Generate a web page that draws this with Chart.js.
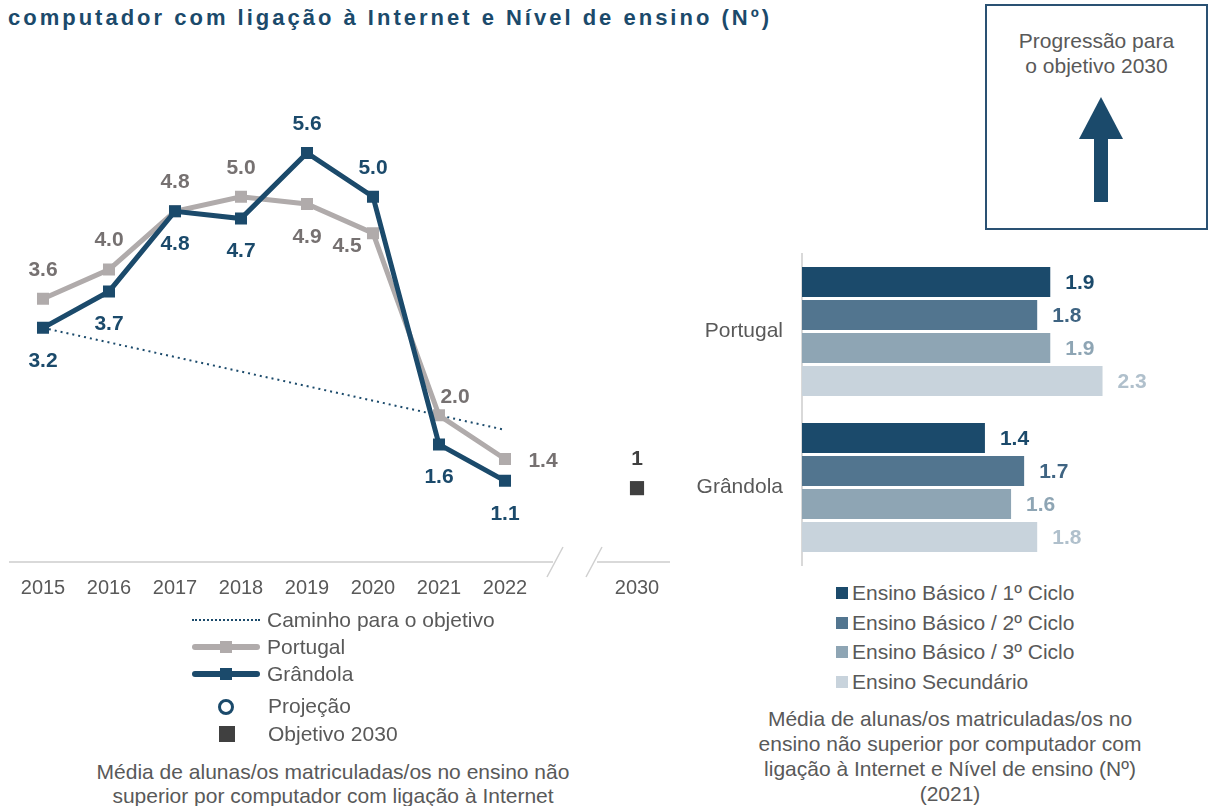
<!DOCTYPE html>
<html lang="pt">
<head>
<meta charset="utf-8">
<script src="https://cdn.jsdelivr.net/npm/chart.js@4.4.0/dist/chart.umd.min.js"></script>
<style>
  body { margin: 0; width: 1210px; height: 806px; position: relative; overflow: hidden;
         background: #fff; font-family: "Liberation Sans", Arial, sans-serif; color: #595959; }
  .abs { position: absolute; }
  #title { left: 8px; top: 7px; font-size: 22px; line-height: 22px; font-weight: bold;
           letter-spacing: 3px; color: #1b4a6b; white-space: nowrap; }
  #lineChart { left: 0; top: 0; }
  #barChart { left: 690px; top: 240px; }
  .leg { font-size: 21px; line-height: 24px; white-space: nowrap; }
  .leg .txt { position: absolute; top: 0; }
  .sample { position: absolute; }
  .caption { font-size: 21px; line-height: 24px; text-align: center; }
  #box { left: 985px; top: 4px; width: 223px; height: 226px; box-sizing: border-box;
         border: 2px solid #2a5173; }
  #box .txt { position: absolute; left: 0; right: 0; top: 22px; font-size: 21px; line-height: 25px; text-align: center; }
  .barleg .sq { position: absolute; left: 0; top: 6px; width: 12px; height: 12px; }
  .barleg .txt { left: 16px; }
</style>
</head>
<body>
<div id="title" class="abs">computador com ligação à Internet e Nível de ensino (Nº)</div>

<canvas id="lineChart" class="abs" width="690" height="610"></canvas>
<canvas id="barChart" class="abs" width="520" height="340"></canvas>

<div id="lineLegend"></div>
<div class="abs caption" style="left:40px; top:760px; width:586px;">Média de alunas/os matriculadas/os no ensino não<br>superior por computador com ligação à Internet</div>

<div id="box" class="abs">
  <div class="txt">Progressão para<br>o objetivo 2030</div>
  <svg class="abs" style="left:0; top:0;" width="223" height="226">
    <polygon points="114,91 92,133 136,133" fill="#1b4a6b"/>
    <rect x="107" y="132" width="14" height="64" fill="#1b4a6b"/>
  </svg>
</div>

<div id="barLegend"></div>
<div class="abs caption" style="left:740px; top:706px; width:420px; line-height:25px;">Média de alunas/os matriculadas/os no<br>ensino não superior por computador com<br>ligação à Internet e Nível de ensino (Nº)<br>(2021)</div>

<script>
// anos (o índice 8 fica vazio para o corte do eixo antes de 2030)
const years = ['2015', '2016', '2017', '2018', '2019', '2020', '2021', '2022', '', '2030'];
const portugal = [3.6, 4.0, 4.8, 5.0, 4.9, 4.5, 2.0, 1.4, null, null];
const grandola = [3.2, 3.7, 4.8, 4.7, 5.6, 5.0, 1.6, 1.1, null, null];
const caminho = [3.2, null, null, null, null, null, null, 1.8, null, null];
const objetivo = [null, null, null, null, null, null, null, null, null, 1];

const regioes = ['Portugal', 'Grândola'];
const niveis = ['Ensino Básico / 1º Ciclo', 'Ensino Básico / 2º Ciclo', 'Ensino Básico / 3º Ciclo', 'Ensino Secundário'];
const basico1 = [1.9, 1.4];
const basico2 = [1.8, 1.7];
const basico3 = [1.9, 1.6];
const secundario = [2.3, 1.8];

// onde fica cada rótulo em relação ao ponto
const portugalLabelPos = ['up', 'up', 'up', 'up', 'down', 'downLeft', 'upRight', 'right'];
const grandolaLabelPos = ['down', 'down', 'down', 'down', 'up', 'up', 'down', 'down'];
const labelOffsets = { up: [0, -29], down: [0, 33], downLeft: [-26, 13], upRight: [16, -18], right: [38, 2] };

const FONT = '"Liberation Sans", Arial, sans-serif';
Chart.defaults.font.family = FONT;

const BLUE = '#1b4a6b';
const GREY = '#b0abab';
const DARK = '#404040';

const pointLabels = {
    id: 'pointLabels',
    afterDatasetsDraw(chart) {
        const ctx = chart.ctx;
        ctx.save();
        ctx.font = 'bold 21px ' + FONT;
        ctx.textAlign = 'center';
        ctx.textBaseline = 'middle';
        chart.data.datasets.forEach((ds, i) => {
            if (!ds.labelPos) return;
            const meta = chart.getDatasetMeta(i);
            meta.data.forEach((pt, j) => {
                const v = ds.data[j];
                if (v == null) return;
                const off = labelOffsets[ds.labelPos[j]];
                ctx.fillStyle = ds.labelColor;
                ctx.fillText(ds.labelDigits === 0 ? String(v) : v.toFixed(1), pt.x + off[0], pt.y + off[1]);
            });
        });
        ctx.restore();
    }
};

// eixo horizontal com corte entre 2022 e 2030
const axisBreak = {
    id: 'axisBreak',
    beforeDatasetsDraw(chart) {
        const { ctx, chartArea, scales: { x, y } } = chart;
        const y0 = y.getPixelForValue(0) + 1;
        const gap = x.getPixelForValue(8);
        ctx.save();
        ctx.strokeStyle = '#d9d9d9';
        ctx.lineWidth = 2;
        ctx.beginPath();
        ctx.moveTo(chartArea.left - 1, y0);
        ctx.lineTo(gap - 18, y0);
        ctx.moveTo(gap + 26, y0);
        ctx.lineTo(chartArea.right, y0);
        ctx.stroke();
        ctx.lineWidth = 1.5;
        ctx.strokeStyle = '#d0d0d0';
        ctx.beginPath();
        [gap - 16, gap + 23].forEach(cx => {
            ctx.moveTo(cx - 8, y0 + 15);
            ctx.lineTo(cx + 8, y0 - 15);
        });
        ctx.stroke();
        ctx.restore();
    }
};

new Chart(document.getElementById('lineChart'), {
    type: 'line',
    data: {
        labels: years,
        datasets: [
            {
                label: 'Caminho para o objetivo', data: caminho, spanGaps: true,
                borderColor: BLUE, borderWidth: 2, borderDash: [2, 4], pointRadius: 0, order: 3
            },
            {
                label: 'Portugal', data: portugal, borderColor: GREY, borderWidth: 5,
                pointStyle: 'rect', pointRadius: 8.5, pointBorderWidth: 0, pointBackgroundColor: GREY,
                labelPos: portugalLabelPos, labelColor: '#767171', order: 2
            },
            {
                label: 'Grândola', data: grandola, borderColor: BLUE, borderWidth: 5,
                pointStyle: 'rect', pointRadius: 8.5, pointBorderWidth: 0, pointBackgroundColor: BLUE,
                labelPos: grandolaLabelPos, labelColor: BLUE, order: 1
            },
            {
                label: 'Objetivo 2030', data: objetivo, showLine: false,
                pointStyle: 'rect', pointRadius: 10, pointBorderWidth: 0, pointBackgroundColor: DARK,
                labelPos: objetivo.map(() => 'up'), labelColor: DARK, labelDigits: 0, order: 0
            }
        ]
    },
    options: {
        responsive: false,
        animation: false,
        layout: { padding: { left: 9, right: 20, top: 51, bottom: 0 } },
        plugins: { legend: { display: false }, tooltip: { enabled: false } },
        scales: {
            x: {
                offset: true,
                grid: { display: false, drawTicks: false },
                border: { display: false },
                ticks: { color: '#595959', font: { size: 20 }, padding: 15, maxRotation: 0, autoSkip: false },
                afterFit: s => { s.height = 49; }
            },
            y: { display: false, min: 0, max: 7 }
        }
    },
    plugins: [axisBreak, pointLabels]
});

// legenda do gráfico de linhas
const lineLegend = document.getElementById('lineLegend');
const legendRows = [
    { text: 'Caminho para o objetivo', top: 608, kind: 'dots' },
    { text: 'Portugal', top: 635, kind: 'line', color: GREY },
    { text: 'Grândola', top: 662, kind: 'line', color: BLUE },
    { text: 'Projeção', top: 694, kind: 'circle' },
    { text: 'Objetivo 2030', top: 722, kind: 'square' }
];
legendRows.forEach(r => {
    const row = document.createElement('div');
    row.className = 'abs leg';
    row.style.left = '190px';
    row.style.top = r.top + 'px';
    let sample = '';
    if (r.kind === 'dots') {
        sample = '<div class="sample" style="left:2px; top:11px; width:68px; border-top:2px dotted ' + BLUE + ';"></div>';
    } else if (r.kind === 'line') {
        sample = '<div class="sample" style="left:2px; top:9px; width:68px; height:6px; border-radius:3px; background:' + r.color + ';"></div>' +
                 '<div class="sample" style="left:30px; top:6px; width:12px; height:12px; background:' + r.color + ';"></div>';
    } else if (r.kind === 'circle') {
        sample = '<div class="sample" style="left:28px; top:5px; width:10px; height:10px; border:3px solid ' + BLUE + '; border-radius:50%;"></div>';
    } else {
        sample = '<div class="sample" style="left:29px; top:4px; width:16px; height:16px; background:' + DARK + ';"></div>';
    }
    row.innerHTML = sample + '<span class="txt" style="left:' + (r.kind === 'circle' || r.kind === 'square' ? 78 : 77) + 'px;">' + r.text + '</span>';
    lineLegend.appendChild(row);
});

// gráfico de barras por nível de ensino
const barColors = ['#1b4a6b', '#52758f', '#8ea5b4', '#c8d3dc'];
const barLabelColors = ['#1b4a6b', '#3f6482', '#8ea5b4', '#b0c0cc'];
const barSeries = [basico1, basico2, basico3, secundario];

const barLabels = {
    id: 'barLabels',
    afterDatasetsDraw(chart) {
        const ctx = chart.ctx;
        ctx.save();
        ctx.font = 'bold 21px ' + FONT;
        ctx.textAlign = 'left';
        ctx.textBaseline = 'middle';
        chart.data.datasets.forEach((ds, i) => {
            chart.getDatasetMeta(i).data.forEach((bar, j) => {
                ctx.fillStyle = barLabelColors[i];
                ctx.fillText(ds.data[j].toFixed(1), bar.x + 15, bar.y + 1);
            });
        });
        ctx.restore();
    }
};

new Chart(document.getElementById('barChart'), {
    type: 'bar',
    data: {
        labels: regioes,
        datasets: niveis.map((n, i) => ({
            label: n,
            data: barSeries[i],
            backgroundColor: barColors[i],
            categoryPercentage: 0.846,
            barPercentage: 0.909
        }))
    },
    options: {
        indexAxis: 'y',
        responsive: false,
        animation: false,
        layout: { padding: { left: 0, right: 16, top: 13.5, bottom: 14.5 } },
        plugins: { legend: { display: false }, tooltip: { enabled: false } },
        scales: {
            x: { display: false, min: 0, max: 3 },
            y: {
                grid: { display: false, drawTicks: false },
                border: { color: '#d9d9d9', width: 2 },
                ticks: { color: '#595959', font: { size: 21 }, padding: 19 },
                afterFit: s => { s.width = 112; s.paddingTop = 0; s.paddingBottom = 0; }
            }
        }
    },
    plugins: [barLabels]
});

const barLegend = document.getElementById('barLegend');
niveis.forEach((n, i) => {
    const row = document.createElement('div');
    row.className = 'abs leg barleg';
    row.style.left = '836px';
    row.style.top = (581 + i * 29.7) + 'px';
    row.innerHTML = '<div class="sq" style="background:' + barColors[i] + ';"></div><span class="txt">' + n + '</span>';
    barLegend.appendChild(row);
});
</script>
</body>
</html>
